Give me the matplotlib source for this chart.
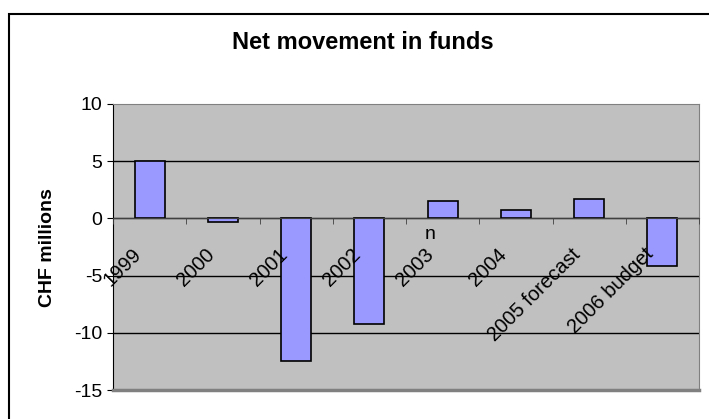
import matplotlib
matplotlib.use("Agg")
import matplotlib.pyplot as plt
from matplotlib.patches import Rectangle
from matplotlib.transforms import ScaledTranslation
import numpy as np

plt.rcParams['font.family'] = ['Liberation Sans', 'DejaVu Sans']

categories = ['1999', '2000', '2001', '2002', '2003', '2004', '2005 forecast', '2006 budget']
values = [5.0, -0.3, -12.5, -9.2, 1.5, 0.7, 1.7, -4.2]
y_ticks = [-15, -10, -5, 0, 5, 10]

fig = plt.figure(figsize=(7.09, 4.19), dpi=100)
ax = fig.add_axes([0.1594, 0.0692, 0.8265, 0.6826])
ax.set_facecolor('#C0C0C0')

x = np.arange(len(categories))
ax.bar(x, values, width=0.41, color='#9999FF', edgecolor='black', linewidth=1.2, zorder=3)

ax.set_xlim(-0.5, len(categories) - 0.5)
ax.set_ylim(-15, 10)
ax.set_yticks(y_ticks)
ax.set_yticklabels([str(v) for v in y_ticks], fontsize=14)

# gridlines under the bars, tick labels over them
for v in y_ticks[1:-1]:
    ax.axhline(v, color='black', linewidth=1, zorder=1)
ax.xaxis.set_zorder(4)

# x axis sits on zero, marks between categories
ax.spines['bottom'].set_position(('data', 0))
ax.spines['bottom'].set_color('#404040')
ax.spines['bottom'].set_zorder(4)
ax.spines['top'].set_color('#808080')
ax.spines['right'].set_color('#808080')
ax.spines['left'].set_color('black')
ax.axhline(-15, color='#808080', linewidth=2.5, clip_on=False, zorder=5)

ax.set_xticks(x)
ax.set_xticklabels(categories, rotation=45, ha='right', va='top', fontsize=14.5)
ax.tick_params(axis='x', which='major', length=0, pad=19)
ax.set_xticks(np.arange(len(categories) + 1) - 0.5, minor=True)
ax.tick_params(axis='x', which='minor', length=4.5, direction='out', color='#404040')
ax.tick_params(axis='y', length=4.5, pad=3, color='black')

shift = ScaledTranslation(-0.05, 0, fig.dpi_scale_trans)
for lbl in ax.get_xticklabels():
    lbl.set_transform(lbl.get_transform() + shift)

ax.text(3.83, -1.45, 'n', fontsize=14, ha='center', va='center')

fig.text(0.512, 0.8986, 'Net movement in funds', fontsize=17, fontweight='bold',
         ha='center', va='center')
fig.text(0.067, 0.409, 'CHF millions', fontsize=14, fontweight='bold',
         rotation=90, ha='center', va='center')

fig.patches.append(Rectangle((9 / 709, -0.1), 1.2, 0.9666 + 0.1, transform=fig.transFigure,
                             fill=False, edgecolor='black', linewidth=1.5))

fig.savefig('out.png', dpi=100)
